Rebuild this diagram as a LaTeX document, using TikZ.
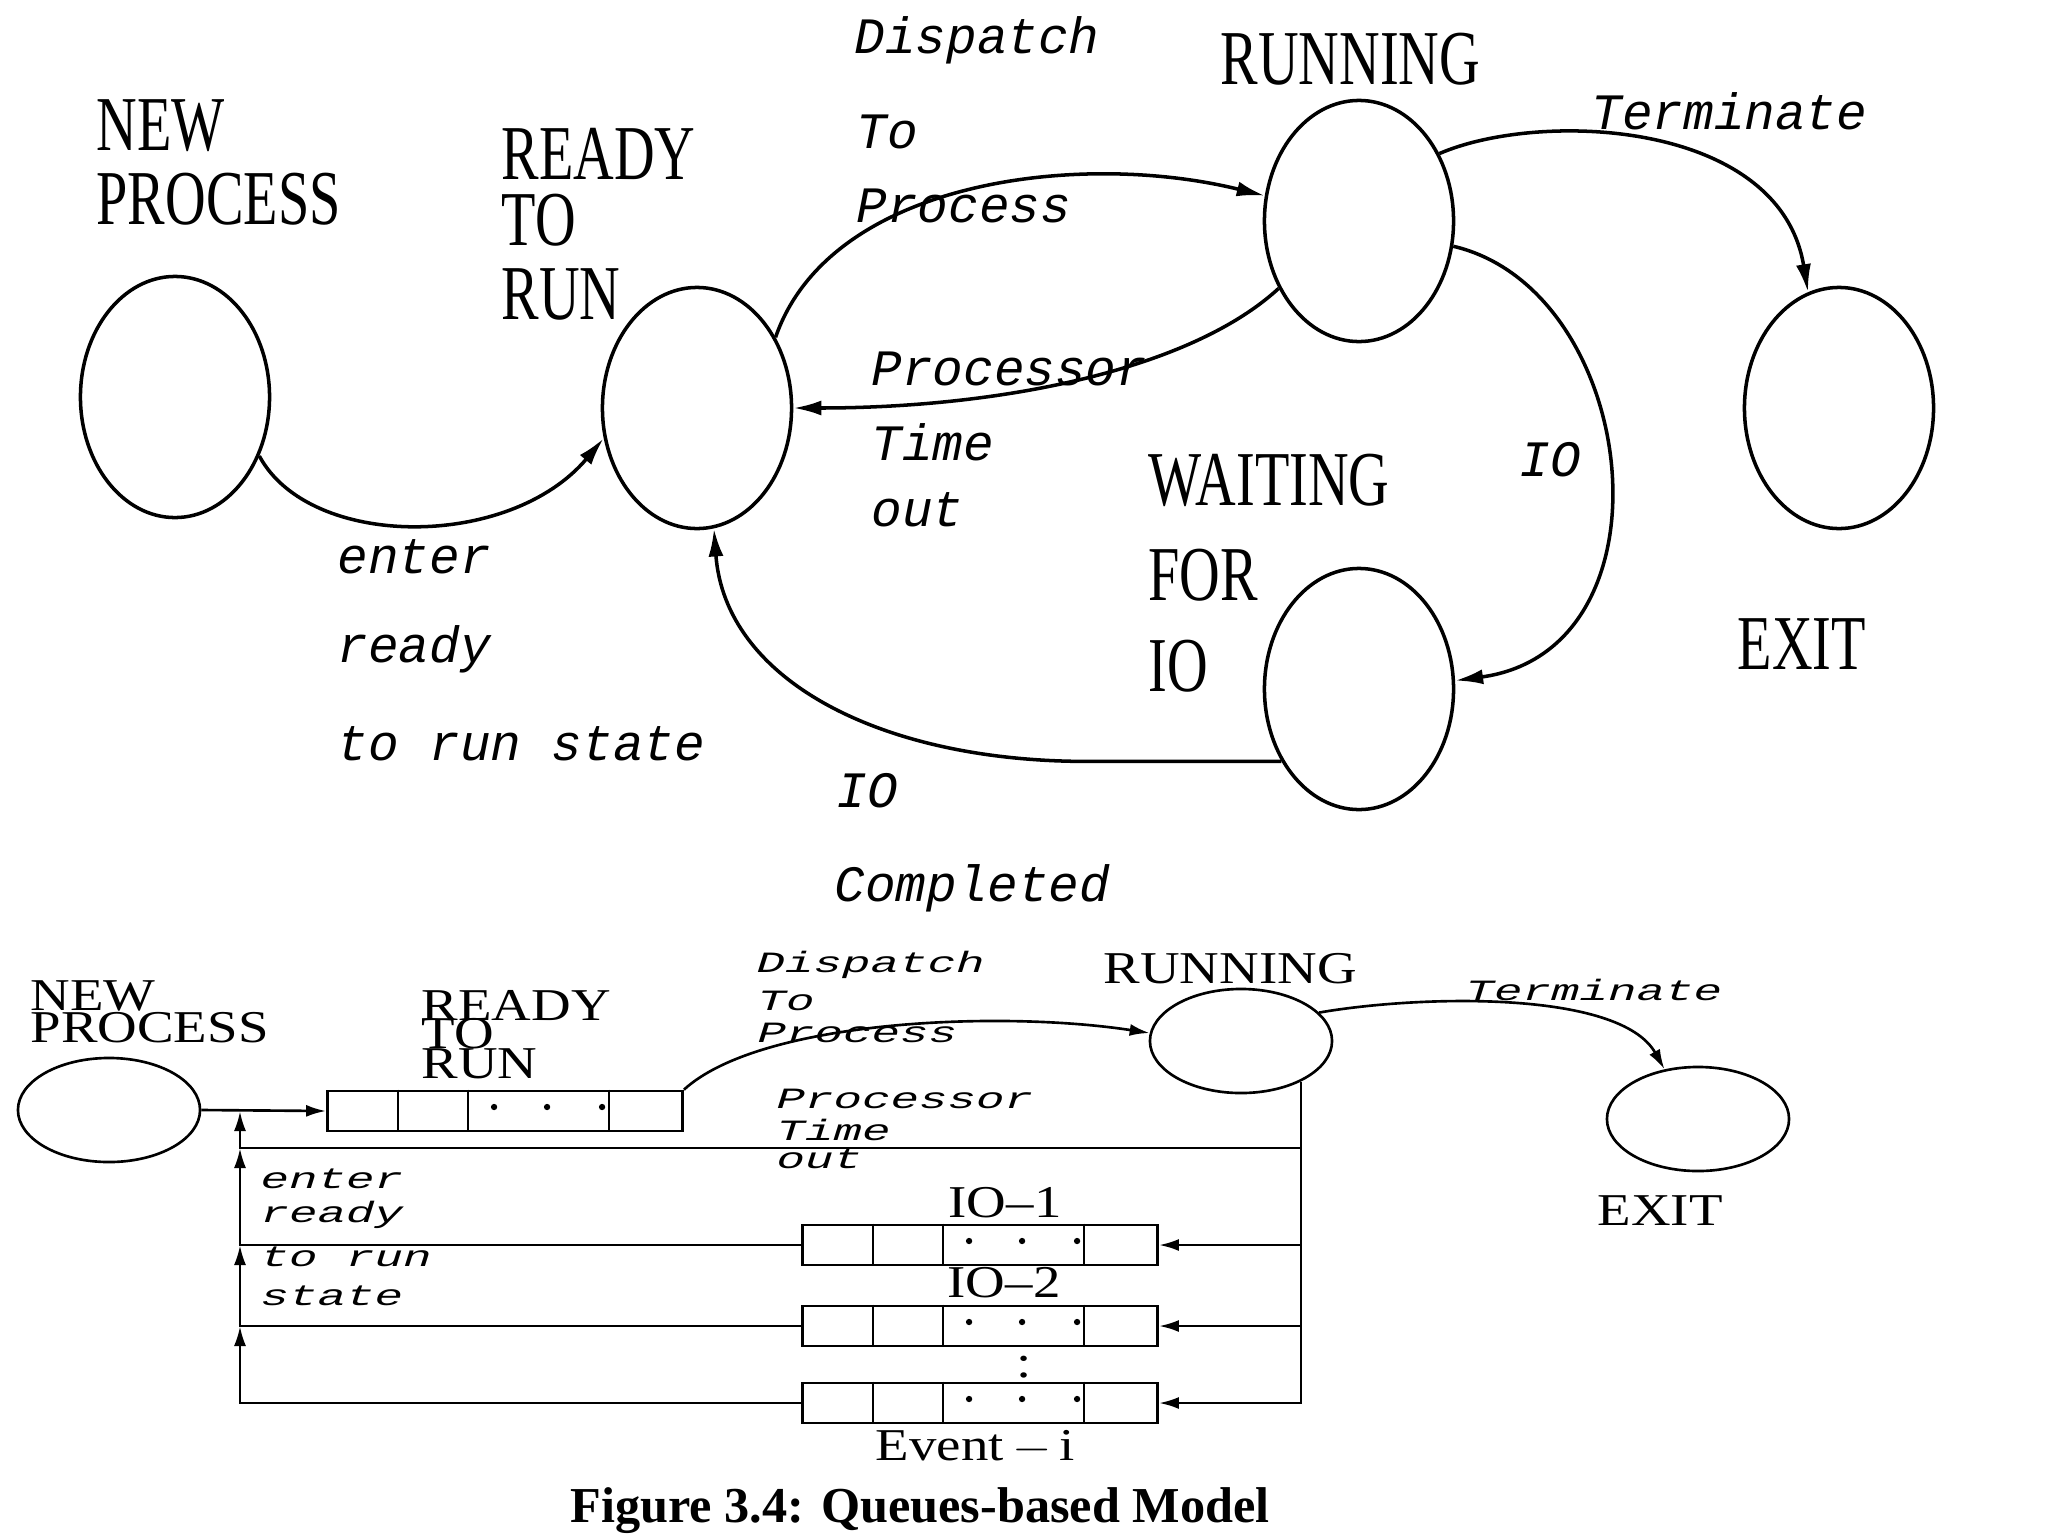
\documentclass[tikz,border=0pt]{standalone}
\usepackage{fontspec}
\usepackage{graphicx}
\setmainfont{Liberation Serif}
\newfontfamily\labelmono{Liberation Mono}
\usetikzlibrary{arrows.meta, shapes.geometric}
\newcommand{\tallcap}[1]{\scalebox{1}[1.38]{#1}}
\newcommand{\flatcap}[1]{\scalebox{1}[0.83]{#1}}
\newcommand{\flatmono}[1]{\scalebox{1}[0.62]{#1}}
% dividers and dots of one queue box
\newcommand{\qcells}[1]{%
  \draw[qline] (#1.north west) ++(72,0) -- ++(0,40) ++(70,-40) -- ++(0,40) ++(141,-40) -- ++(0,40);
  \fill (#1.west) ++(168,-4) circle[radius=0.9pt] ++(53,0) circle[radius=0.9pt] ++(55,0) circle[radius=0.9pt];}
\tikzset{
    bigstate/.style  ={draw, ellipse, line width=1pt, inner sep=0pt,
                       minimum width=1.89cm, minimum height=2.41cm},
    smallstate/.style={draw, ellipse, line width=0.75pt, inner sep=0pt,
                       minimum width=1.82cm, minimum height=1.04cm},
    qbox/.style      ={draw, rectangle, line width=0.75pt, inner sep=0pt,
                       minimum width=3.55cm, minimum height=0.40cm},
    qline/.style     ={line width=0.75pt},
    arr/.style       ={-{Latex[length=2.8mm, width=1.5mm]}, line width=1pt},
    qarr/.style      ={-{Latex[length=2mm, width=1.2mm]}, line width=0.75pt},
    topcap/.style    ={anchor=base west, inner sep=0pt, font=\fontsize{16}{18}\selectfont},
    lowcap/.style    ={anchor=base west, inner sep=0pt, font=\fontsize{15.6}{18}\selectfont},
    topmono/.style   ={anchor=base west, inner sep=0pt, font=\labelmono\itshape\fontsize{14.5}{16}\selectfont},
    lowmono/.style   ={anchor=base west, inner sep=0pt, font=\labelmono\itshape\fontsize{13.5}{15}\selectfont}
}

\begin{document}
\begin{tikzpicture}[x=0.01cm, y=-0.01cm]
  \fill[white] (0,0) rectangle (2048,1536);
  \useasboundingbox (0,0) rectangle (2048,1536);

  % upper diagram: states
  \node[bigstate] (newT)   at (175,397)  {};
  \node[bigstate] (readyT) at (697,408)  {};
  \node[bigstate] (runT)   at (1359,221) {};
  \node[bigstate] (exitT)  at (1839,408) {};
  \node[bigstate] (waitT)  at (1359,689) {};

  \node[topcap] (tNew1)   at (96,150)   {\tallcap{NEW}};
  \node[topcap] (tNew2)   at (96,224)   {\tallcap{PROCESS}};
  \node[topcap] (tReady1) at (501,179)  {\tallcap{READY}};
  \node[topcap] (tReady2) at (501,245)  {\tallcap{TO}};
  \node[topcap] (tReady3) at (501,319)  {\tallcap{RUN}};
  \node[topcap] (tRun)    at (1220,84)  {\tallcap{RUNNING}};
  \node[topcap] (tWait1)  at (1148,505) {\tallcap{WAITING}};
  \node[topcap] (tWait2)  at (1148,600) {\tallcap{FOR}};
  \node[topcap] (tWait3)  at (1148,691) {\tallcap{IO}};
  \node[topcap] (tExit)   at (1737,669) {\tallcap{EXIT}};

  % upper diagram: transitions
  \draw[arr] (newT.-35) .. controls (310,550) and (510,550) .. (readyT.198);
  \draw[arr] (readyT.42) .. controls (830,180) and (1080,150) .. (runT.165);
  \draw[arr] (runT.220) .. controls (1190,370) and (1000,408) .. (readyT.0);
  \draw[arr] (runT.40) .. controls (1540,110) and (1780,120) .. (exitT.105);
  \draw[arr] (runT.-15) .. controls (1640,290) and (1680,650) .. (waitT.5);
  \draw[arr] (waitT.223) -- ++(-200,0) .. controls (880,760) and (725,680) .. (readyT.-82);

  \node[topmono] (mDisp)  at (854,53)   {Dispatch};
  \node[topmono] (mTo)    at (856,148)  {To};
  \node[topmono] (mProc)  at (856,222)  {Process};
  \node[topmono] (mTerm)  at (1591,129) {Terminate};
  \node[topmono] (mPrsr)  at (871,385)  {Processor};
  \node[topmono] (mTime)  at (871,460)  {Time};
  \node[topmono] (mOut)   at (871,526)  {out};
  \node[topmono] (mIOa)   at (1519,476) {IO};
  \node[topmono] (mEnter) at (337,573)  {enter};
  \node[topmono] (mReady) at (337,662)  {ready};
  \node[topmono] (mToRun) at (337,760)  {to run state};
  \node[topmono] (mIOb)   at (836,807)  {IO};
  \node[topmono] (mDone)  at (834,901)  {Completed};

  % lower diagram: states and queues
  \node[smallstate] (newL)  at (109,1110)  {};
  \node[smallstate] (runL)  at (1241,1041) {};
  \node[smallstate] (exitL) at (1698,1119) {};
  \node[qbox] (rq)  at (505,1111) {};
  \node[qbox] (io1) at (980,1245) {};
  \node[qbox] (io2) at (980,1326) {};
  \node[qbox] (ev)  at (980,1403) {};
  \qcells{rq}
  \qcells{io1}
  \qcells{io2}
  \qcells{ev}
  \coordinate (jA) at (240,1111);
  \coordinate (jB) at (240,1148);

  \node[lowcap] (lNew1)   at (30,1010)   {\flatcap{NEW}};
  \node[lowcap] (lNew2)   at (30,1042)   {\flatcap{PROCESS}};
  \node[lowcap] (lReady1) at (421,1020)  {\flatcap{READY}};
  \node[lowcap] (lReady2) at (421,1048)  {\flatcap{TO}};
  \node[lowcap] (lReady3) at (421,1078)  {\flatcap{RUN}};
  \node[lowcap] (lRun)    at (1103,983)  {\flatcap{RUNNING}};
  \node[lowcap] (lExit)   at (1597,1225) {\flatcap{EXIT}};
  \node[lowcap] (lIO1)    at (948,1217)  {\flatcap{IO--1}};
  \node[lowcap] (lIO2)    at (947,1297)  {\flatcap{IO--2}};
  \node[lowcap, anchor=center] (lMore) at (1024,1367) {\flatcap{:}};
  \node[lowcap] (lEvent)  at (875,1460)  {\flatcap{Event$\,-\,$i}};

  % lower diagram: connections
  \draw[qarr] (newL.east) -- (rq.west);
  \draw[qarr] (rq.north east) .. controls (760,1020) and (1000,1010) .. (runL.175);
  \draw[qarr] (runL.20) .. controls (1420,995) and (1620,990) .. (exitL.124);
  \draw[qarr] (runL.-34) |- (ev.east);
  \draw[qarr] (runL.-34 |- io1.east) -- (io1.east);
  \draw[qarr] (runL.-34 |- io2.east) -- (io2.east);
  \draw[qarr] (runL.-34 |- jB) -| (jA);
  \draw[qarr] (io1.west) -| (jB);
  \draw[qarr] (io2.west) -| (jA |- io1.west);
  \draw[qarr] (ev.west) -| (jA |- io2.west);

  \node[lowmono] (nDisp)  at (756,972)   {\flatmono{Dispatch}};
  \node[lowmono] (nTo)    at (757,1010)  {\flatmono{To}};
  \node[lowmono] (nProc)  at (757,1042)  {\flatmono{Process}};
  \node[lowmono] (nPrsr)  at (776,1108)  {\flatmono{Processor}};
  \node[lowmono] (nTime)  at (776,1140)  {\flatmono{Time}};
  \node[lowmono] (nOut)   at (776,1168)  {\flatmono{out}};
  \node[lowmono] (nEnter) at (260,1188)  {\flatmono{enter}};
  \node[lowmono] (nReady) at (260,1222)  {\flatmono{ready}};
  \node[lowmono] (nToRun) at (260,1266)  {\flatmono{to run}};
  \node[lowmono] (nState) at (260,1305)  {\flatmono{state}};
  \node[lowmono] (nTerm)  at (1465,1000) {\flatmono{Terminate}};

  \node[anchor=base, inner sep=0pt, font=\bfseries\fontsize{14.3}{16}\selectfont]
       (caption) at (920,1522) {Figure 3.4: Queues-based Model};
\end{tikzpicture}
\end{document}
